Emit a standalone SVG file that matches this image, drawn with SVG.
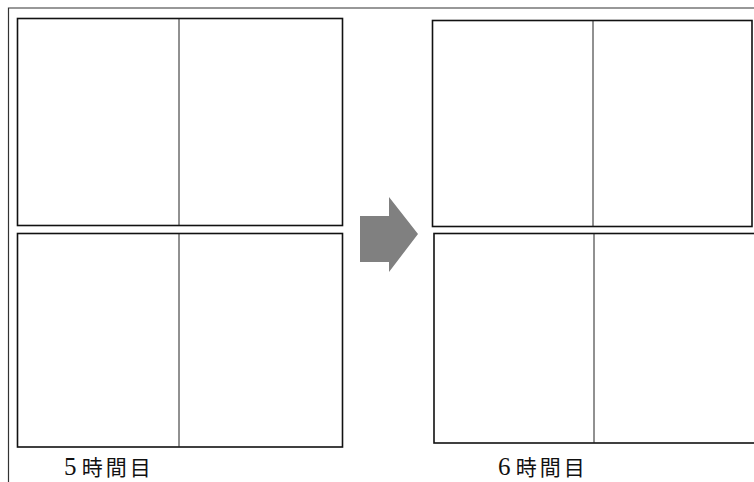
<svg xmlns="http://www.w3.org/2000/svg" width="754" height="482" viewBox="0 0 754 482">
<style>
.frame{fill:none;stroke:#333;stroke-width:1.2}
.box{fill:#fff;stroke:#111;stroke-width:1.6}
.div{stroke:#222;stroke-width:1}
.lbl{font-family:"Liberation Serif","Noto Sans CJK JP",serif;font-size:21px;fill:#111}
.num{font-size:25px}
</style>
<rect width="754" height="482" fill="#fff"/>
<g id="frame">
<path class="frame" d="M8.5,482 V8 H754"/>
</g>
<g id="left-top">
<rect class="box" x="17.5" y="18.5" width="325" height="207"/>
<line class="div" x1="179" y1="18.5" x2="179" y2="225.5"/>
</g>
<g id="left-bottom">
<rect class="box" x="17.5" y="233.5" width="325" height="213.5"/>
<line class="div" x1="179" y1="233.5" x2="179" y2="447"/>
</g>
<g id="right-top">
<rect class="box" x="432.5" y="20.5" width="319.5" height="206"/>
<line class="div" x1="593" y1="20.5" x2="593" y2="226.5"/>
</g>
<g id="right-bottom">
<rect class="box" x="434" y="233.5" width="324" height="209.5"/>
<line class="div" x1="594" y1="233.5" x2="594" y2="443"/>
</g>
<g id="connectors">
<polygon points="360,216 389,216 389,197 418,234 389,272 389,262 360,262" fill="#808080"/>
</g>
<g id="label-5">
<text class="lbl" x="64" y="475"><tspan class="num">5</tspan> <tspan letter-spacing="3">時間目</tspan></text>
</g>
<g id="label-6">
<text class="lbl" x="498" y="475"><tspan class="num">6</tspan> <tspan letter-spacing="3">時間目</tspan></text>
</g>
</svg>
